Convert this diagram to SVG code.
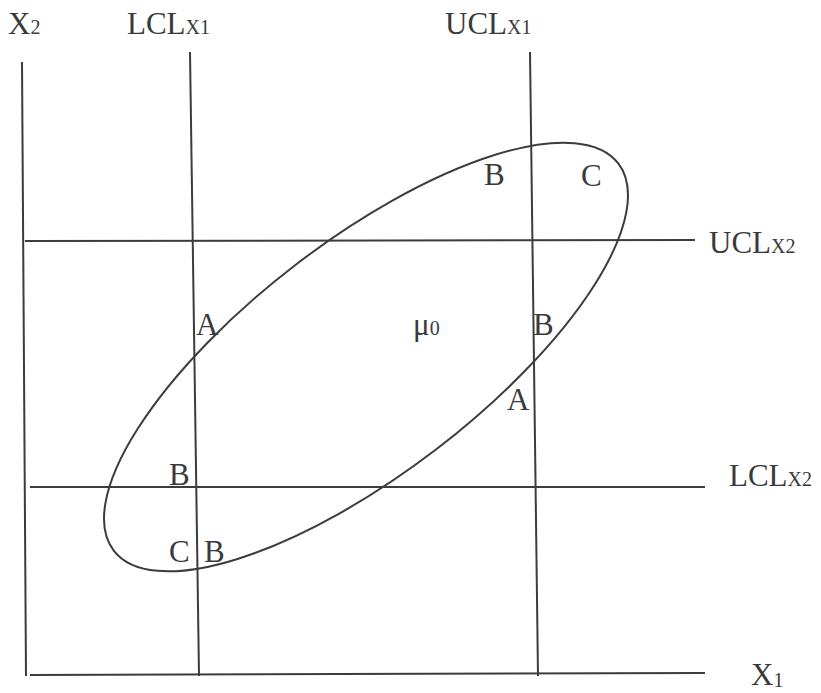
<svg xmlns="http://www.w3.org/2000/svg" width="821" height="693" viewBox="0 0 821 693">
<style>
.ln{stroke:#3c3c3c;stroke-width:2;fill:none}
.t{font-family:"Liberation Serif","Times New Roman",serif;font-size:31px;fill:#3a3a3a}
.s{font-size:20px}
</style>
<rect width="821" height="693" fill="#ffffff"/>
<g id="axes">
<line class="ln" x1="22" y1="62" x2="26" y2="676"/>
<line class="ln" x1="30" y1="675" x2="705" y2="673"/>
</g>
<g id="limits">
<line class="ln" x1="190" y1="52" x2="199" y2="676"/>
<line class="ln" x1="530" y1="52" x2="538" y2="676"/>
<line class="ln" x1="25" y1="241" x2="695" y2="240"/>
<line class="ln" x1="30" y1="487" x2="705" y2="487"/>
</g>
<g id="ellipse">
<ellipse class="ln" cx="366" cy="357" rx="318" ry="116" transform="rotate(-37.5 366 357)"/>
</g>
<g id="labels">
<text class="t" x="8" y="34">X<tspan class="s">2</tspan></text>
<text class="t" x="127" y="34">LCL<tspan class="s">X1</tspan></text>
<text class="t" x="445" y="34">UCL<tspan class="s">X1</tspan></text>
<text class="t" x="709" y="253">UCL<tspan class="s">X2</tspan></text>
<text class="t" x="729" y="486">LCL<tspan class="s">X2</tspan></text>
<text class="t" x="751" y="685">X<tspan class="s" dy="2">1</tspan></text>
<text class="t" x="484" y="185">B</text>
<text class="t" x="581" y="186">C</text>
<text class="t" x="196" y="335">A</text>
<text class="t" x="413" y="335" font-size="28">μ<tspan class="s">0</tspan></text>
<text class="t" x="533" y="335">B</text>
<text class="t" x="507" y="410">A</text>
<text class="t" x="169" y="485">B</text>
<text class="t" x="169" y="562">C</text>
<text class="t" x="204" y="562">B</text>
</g>
</svg>
